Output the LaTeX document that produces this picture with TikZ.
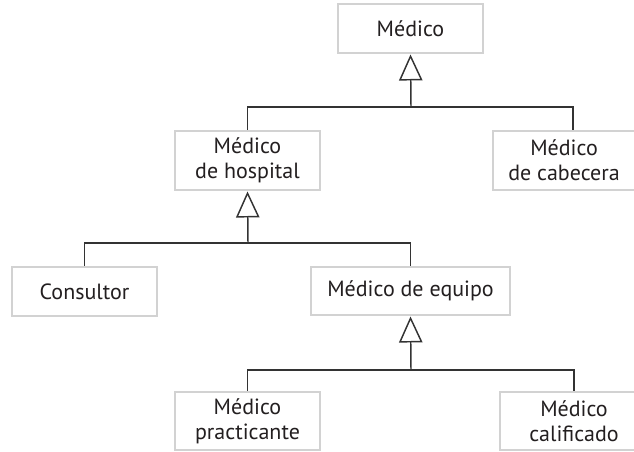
\documentclass[tikz,border=0pt]{standalone}
\usepackage{fontspec}
\setmainfont{PT Sans}
\usepackage{tikz}
\usetikzlibrary{arrows.meta, calc}
\usepackage{xcolor}
\definecolor{BoxG} {HTML}{D2D2D2}
\definecolor{InkK} {HTML}{231F20}
\definecolor{LineK}{HTML}{333333}
\tikzset{
  cls/.style={
    rectangle, draw=BoxG, fill=white, text=InkK,
    line width=2.2pt, align=center, inner sep=0pt,
    font=\fontsize{16.5}{18.5}\selectfont,
  },
  lnk/.style={
    line width=1.1pt, color=LineK,
  },
  inh/.style={
    lnk, -{Triangle[open, length=19.5pt, width=17.5pt, line width=1.1pt]},
  },
}
\begin{document}
\begin{tikzpicture}[x=0.75pt,y=-0.75pt]
  \useasboundingbox (0,0) rectangle (634,452);
  \clip (0,0) rectangle (634,452);
  % classes
  \node[cls, minimum width=108.75pt, minimum height=36.75pt] (med)  at (410.5, 28.5) {Médico};
  \node[cls, minimum width=108.75pt, minimum height=44.25pt] (hosp) at (247.5,160.5) {Médico\\de hospital};
  \node[cls, minimum width=106.5pt,  minimum height=44.25pt] (cab)  at (564,  160.5) {Médico\\de cabecera};
  \node[cls, minimum width=108.75pt, minimum height=36.75pt] (cons) at ( 84.5,291.5) {Consultor};
  \node[cls, minimum width=149.25pt, minimum height=36pt]    (equ)  at (410.5,291)   {Médico de equipo};
  \node[cls, minimum width=108.75pt, minimum height=43.5pt]  (prac) at (247.5,421)   {Médico\\practicante};
  \node[cls, minimum width=111pt,    minimum height=43.5pt]  (cal)  at (574,  421)   {Médico\\calificado};
  % junctions
  \coordinate (j1) at (411,107);
  \coordinate (j2) at (248,243);
  \coordinate (j3) at (411,370);
  % generalisation
  \draw[inh] (j1) -- (med.south);
  \draw[lnk] (hosp.north) |- (j1) -| ([xshift=6.75pt]cab.north);
  \draw[inh] (j2) -- (hosp.south);
  \draw[lnk] (cons.north) |- (j2) -| (equ.north);
  \draw[inh] (j3) -- (equ.south);
  \draw[lnk] (prac.north) |- (j3) -| (cal.north);
\end{tikzpicture}
\end{document}
